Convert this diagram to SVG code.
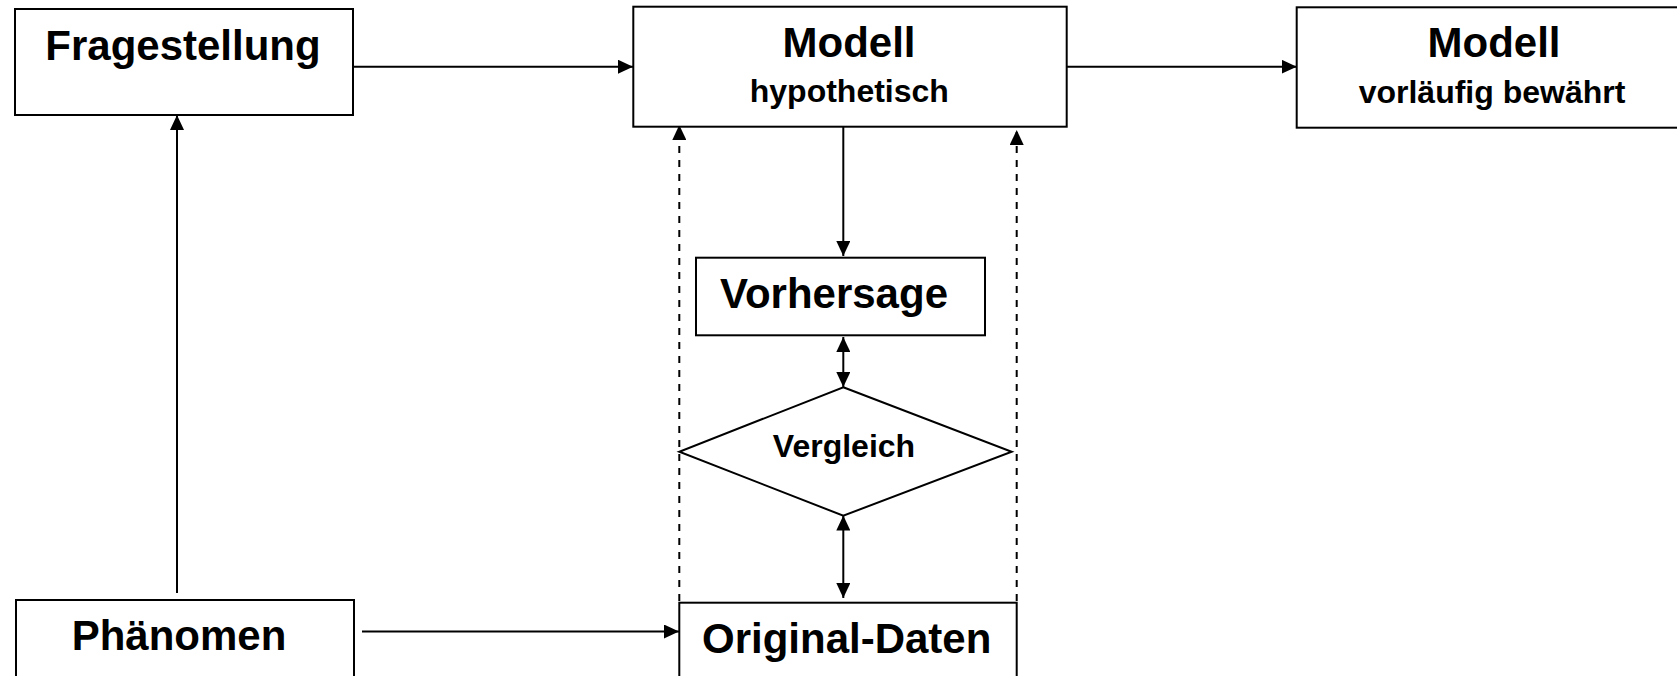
<svg xmlns="http://www.w3.org/2000/svg" width="1677" height="676" viewBox="0 0 1677 676">
  <style>
    .box { fill: #ffffff; stroke: #000000; stroke-width: 2; }
    .t1 { font-family: "Liberation Sans", Arial, sans-serif; font-weight: bold; font-size: 42px; fill: #000000; text-anchor: middle; }
    .t2 { font-family: "Liberation Sans", Arial, sans-serif; font-weight: bold; font-size: 32px; fill: #000000; text-anchor: middle; }
    .conn { fill: none; stroke: #000000; stroke-width: 2; }
    .dash { fill: none; stroke: #000000; stroke-width: 2; stroke-dasharray: 7 7; }
  </style>
  <defs>
    <marker id="arrow" markerUnits="userSpaceOnUse" markerWidth="15" markerHeight="14" refX="15" refY="7" orient="auto">
      <path d="M0,0 L15,7 L0,14 z" fill="#000000"/>
    </marker>
    <marker id="arrowStart" markerUnits="userSpaceOnUse" markerWidth="15" markerHeight="14" refX="0" refY="7" orient="auto">
      <path d="M15,0 L0,7 L15,14 z" fill="#000000"/>
    </marker>
  </defs>
  <rect width="1677" height="676" fill="#ffffff"/>

  <g id="connectors">
    <line class="conn" x1="353" y1="66.7" x2="633" y2="66.7" marker-end="url(#arrow)"/>
    <line class="conn" x1="1067" y1="66.7" x2="1296.7" y2="66.7" marker-end="url(#arrow)"/>
    <line class="conn" x1="177" y1="593" x2="177" y2="115" marker-end="url(#arrow)"/>
    <line class="conn" x1="362" y1="631.5" x2="679" y2="631.5" marker-end="url(#arrow)"/>
    <line class="conn" x1="843.3" y1="127" x2="843.3" y2="256" marker-end="url(#arrow)"/>
    <line class="conn" x1="843.3" y1="337" x2="843.3" y2="387" marker-start="url(#arrowStart)" marker-end="url(#arrow)"/>
    <line class="conn" x1="843.3" y1="515.5" x2="843.3" y2="598" marker-start="url(#arrowStart)" marker-end="url(#arrow)"/>
    <line class="dash" x1="679.3" y1="601" x2="679.3" y2="125" marker-end="url(#arrow)"/>
    <line class="dash" x1="1016.7" y1="601" x2="1016.7" y2="130" marker-end="url(#arrow)"/>
  </g>

  <g id="fragestellung">
    <rect class="box" x="15" y="9" width="338" height="106"/>
    <text class="t1" x="183" y="60">Fragestellung</text>
  </g>

  <g id="modell-hypothetisch">
    <rect class="box" x="633.3" y="6.7" width="433.4" height="120"/>
    <text class="t1" x="849" y="56.7">Modell</text>
    <text class="t2" x="849.3" y="102">hypothetisch</text>
  </g>

  <g id="modell-bewaehrt">
    <rect class="box" x="1296.7" y="7.3" width="420" height="120.4"/>
    <text class="t1" x="1494" y="56.7">Modell</text>
    <text class="t2" x="1492" y="103">vorläufig bewährt</text>
  </g>

  <g id="vorhersage">
    <rect class="box" x="696" y="257.7" width="289" height="77.6"/>
    <text class="t1" x="834" y="308">Vorhersage</text>
  </g>

  <g id="vergleich">
    <polygon class="box" points="843.3,387.3 1011.7,451.7 843.3,515.7 679.3,451.7"/>
    <text class="t2" x="844" y="456.7">Vergleich</text>
  </g>

  <g id="phaenomen">
    <rect class="box" x="16" y="600" width="338" height="100"/>
    <text class="t1" x="179" y="650">Phänomen</text>
  </g>

  <g id="original-daten">
    <rect class="box" x="679.3" y="602.7" width="337.4" height="100"/>
    <text class="t1" x="846.7" y="652.7">Original-Daten</text>
  </g>
</svg>
